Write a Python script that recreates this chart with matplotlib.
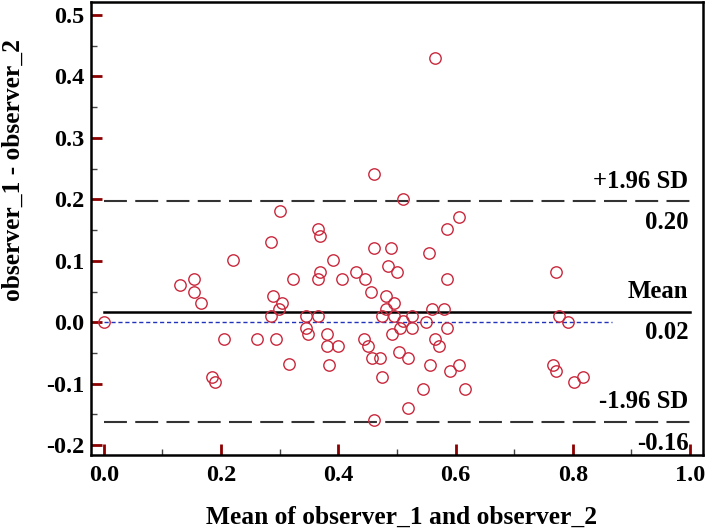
import matplotlib
matplotlib.use("Agg")
import matplotlib.pyplot as plt
from matplotlib.ticker import MultipleLocator, FormatStrFormatter

# Data (mean of observers, difference)
mean_vals = [0.000, 0.130, 0.154, 0.154, 0.165, 0.185, 0.190, 0.205, 0.220, 0.262,
             0.285, 0.289, 0.304, 0.299, 0.285, 0.293, 0.300, 0.316, 0.323, 0.345,
             0.345, 0.349, 0.365, 0.369, 0.369, 0.365, 0.365, 0.380, 0.380, 0.384,
             0.391, 0.399, 0.406, 0.430, 0.445, 0.443, 0.451, 0.456, 0.458, 0.460,
             0.460, 0.460, 0.471, 0.474, 0.474, 0.481, 0.481, 0.485, 0.490, 0.491,
             0.495, 0.495, 0.500, 0.504, 0.505, 0.510, 0.511, 0.519, 0.519, 0.526,
             0.526, 0.545, 0.549, 0.555, 0.556, 0.560, 0.565, 0.565, 0.572, 0.580,
             0.586, 0.586, 0.586, 0.590, 0.606, 0.606, 0.616, 0.771, 0.776, 0.791,
             0.766, 0.771, 0.802, 0.817]
diff_vals = [0.000, 0.061, 0.071, 0.050, 0.032, -0.089, -0.098, -0.028, 0.101, -0.028,
             0.130, 0.043, 0.032, 0.021, 0.011, -0.028, 0.181, -0.068, 0.071, 0.011,
             -0.009, -0.019, 0.151, 0.141, 0.082, 0.071, 0.011, -0.019, -0.038, -0.069,
             0.101, -0.038, 0.071, 0.081, 0.071, -0.028, -0.038, 0.050, -0.058, 0.241,
             0.121, -0.159, -0.058, -0.089, 0.011, 0.043, 0.022, 0.092, 0.121, -0.019,
             0.032, 0.011, 0.081, -0.048, -0.010, 0.200, 0.002, -0.058, -0.139, 0.011,
             -0.010, -0.108, 0.001, 0.112, -0.069, 0.022, 0.430, -0.027, -0.038, 0.022,
             0.151, 0.071, -0.009, -0.079, 0.171, -0.069, -0.108, 0.081, 0.011, 0.000,
             -0.069, -0.079, -0.098, -0.089]

mean_diff = 0.0175
upper_loa = 0.197
lower_loa = -0.162
line_labels = ["+1.96 SD", "Mean", "-1.96 SD"]
value_labels = ["0.20", "0.02", "-0.16"]
x_label = 'Mean of observer_1 and observer_2'
y_label = 'observer_1 - observer_2'

plt.rcParams['font.family'] = ['Liberation Serif', 'DejaVu Serif']
plt.rcParams['font.weight'] = 'bold'
plt.rcParams['axes.unicode_minus'] = False

fig = plt.figure(figsize=(7.09, 5.30), dpi=100)
ax = fig.add_axes([0.1283, 0.1415, 0.8632, 0.8545])

ax.set_xlim(-0.022, 1.022)
ax.set_ylim(-0.216, 0.521)

# zero line (blue dotted)
ax.plot([0.0, 0.866], [0, 0], color='#2233bb', lw=1.0, linestyle=(0, (3, 2)), zorder=1)
# mean line
ax.plot([0.0, 1.0], [mean_diff, mean_diff], color='black', lw=1.8, zorder=2)
# limits of agreement
for v in (upper_loa, lower_loa):
    ax.plot([0.0, 1.0], [v, v], color='#333333', lw=1.5, dashes=(11, 4), zorder=2)

ax.plot(mean_vals, diff_vals, linestyle='none', marker='o', markersize=8.2,
        markerfacecolor='none', markeredgecolor='#c8283c', markeredgewidth=1.0, zorder=3)

fs = 17.8
for v, lab, val in zip((upper_loa, mean_diff, lower_loa), line_labels, value_labels):
    ax.annotate(lab, xy=(0.997, v), xytext=(0, 6), textcoords='offset points',
                ha='right', va='bottom', fontsize=fs, fontweight='bold')
    ax.annotate(val, xy=(0.997, v), xytext=(0, -7), textcoords='offset points',
                ha='right', va='top', fontsize=fs, fontweight='bold')

ax.xaxis.set_major_locator(MultipleLocator(0.2))
ax.xaxis.set_minor_locator(MultipleLocator(0.1))
ax.yaxis.set_major_locator(MultipleLocator(0.1))
ax.yaxis.set_minor_locator(MultipleLocator(0.05))
ax.xaxis.set_major_formatter(FormatStrFormatter('%.1f'))
ax.yaxis.set_major_formatter(FormatStrFormatter('%.1f'))

ax.tick_params(which='major', direction='in', length=8, width=2.0, color='#8b0000',
               labelsize=17.5, pad=7)
ax.tick_params(which='minor', direction='in', length=4, width=1.0, color='#444444')
ax.tick_params(axis='y', which='major', pad=5)
for lab in ax.get_xticklabels() + ax.get_yticklabels():
    lab.set_fontweight('bold')

for s in ax.spines.values():
    s.set_linewidth(1.8)
    s.set_color('black')

fig.text(402 / 709, 6 / 530, x_label, fontsize=18.4, fontweight='bold',
         ha='center', va='baseline')
fig.text(13 / 709, 1 - 170 / 530, y_label, fontsize=18.4, fontweight='bold',
         ha='center', va='center', rotation=90)

fig.savefig('out.png', dpi=100)
